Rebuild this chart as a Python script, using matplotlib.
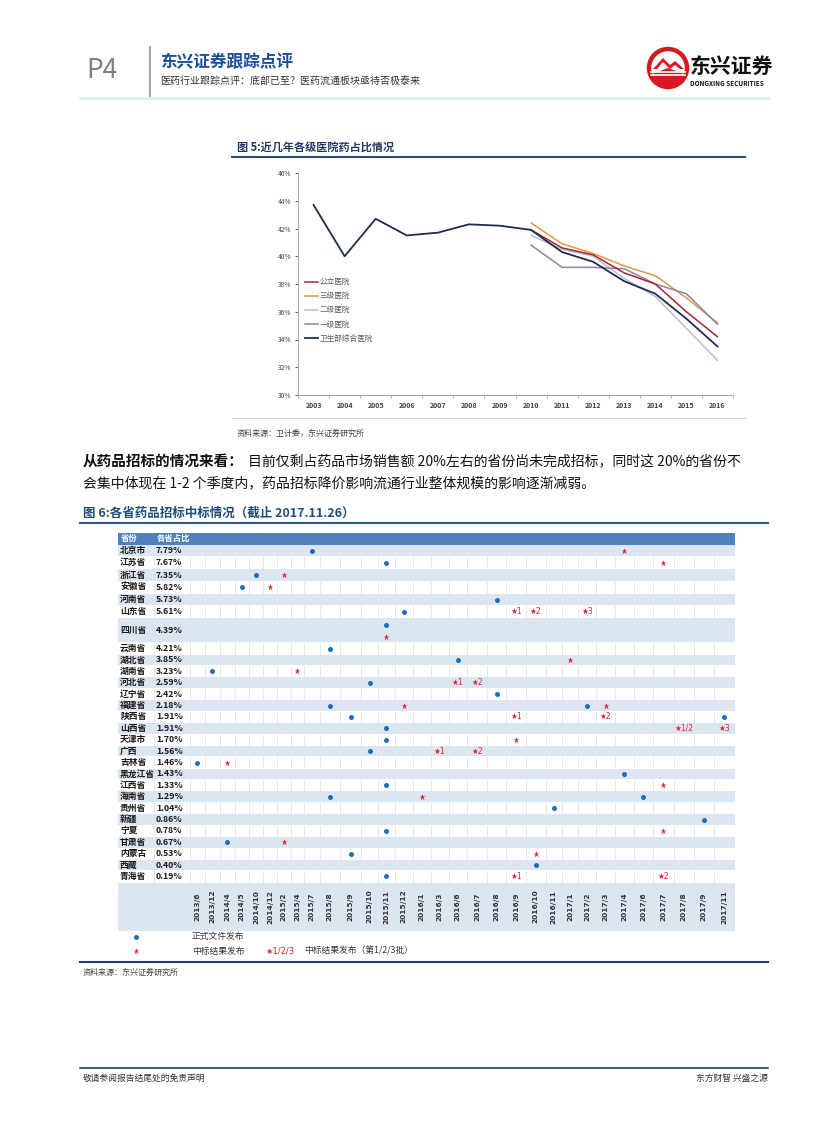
import matplotlib
matplotlib.use('Agg')
import matplotlib.pyplot as plt
from matplotlib.lines import Line2D
from matplotlib.patches import Rectangle, Circle, Polygon, Wedge

plt.rcParams['font.family'] = ['Noto Sans CJK SC', 'DejaVu Sans']

# ---- figure 5: drug share of hospital revenue (%)
years = ['2003', '2004', '2005', '2006', '2007', '2008', '2009',
         '2010', '2011', '2012', '2013', '2014', '2015', '2016']
ministry_hosp = [43.7, 40.0, 42.7, 41.5, 41.7, 42.3, 42.2, 41.9, 40.3, 39.6, 38.2, 37.3, 35.5, 33.5]
public_hosp = [41.9, 40.6, 40.1, 38.8, 38.0, 36.0, 34.2]
tier3_hosp = [42.4, 40.9, 40.2, 39.3, 38.6, 37.0, 35.2]
tier2_hosp = [41.5, 40.5, 40.0, 38.4, 37.1, 34.8, 32.5]
tier1_hosp = [40.8, 39.2, 39.2, 39.1, 38.0, 37.3, 35.1]

# ---- figure 6: provincial tender schedule
provinces = ['北京市', '江苏省', '浙江省', '安徽省', '河南省', '山东省', '四川省', '云南省',
             '湖北省', '湖南省', '河北省', '辽宁省', '福建省', '陕西省', '山西省', '天津市',
             '广西', '吉林省', '黑龙江省', '江西省', '海南省', '贵州省', '新疆', '宁夏',
             '甘肃省', '内蒙古', '西藏', '青海省']
shares = ['7.79%', '7.67%', '7.35%', '5.82%', '5.73%', '5.61%', '4.39%', '4.21%',
          '3.85%', '3.23%', '2.59%', '2.42%', '2.18%', '1.91%', '1.91%', '1.70%',
          '1.56%', '1.46%', '1.43%', '1.33%', '1.29%', '1.04%', '0.86%', '0.78%',
          '0.67%', '0.53%', '0.40%', '0.19%']
months = ['2013/6', '2013/12', '2014/4', '2014/5', '2014/10', '2014/12', '2015/2', '2015/4',
          '2015/7', '2015/8', '2015/9', '2015/10', '2015/11', '2015/12', '2016/1', '2016/3',
          '2016/6', '2016/7', '2016/8', '2016/9', '2016/10', '2016/11', '2017/1', '2017/2',
          '2017/3', '2017/4', '2017/6', '2017/7', '2017/8', '2017/9', '2017/11']
# 正式文件发布
doc_dates = [['2015/7'], ['2015/11'], ['2014/10'], ['2014/5'], ['2016/8'], ['2015/12'],
             ['2015/11'], ['2015/8'], ['2016/6'], ['2013/12'], ['2015/10'], ['2016/8'],
             ['2015/8', '2017/2'], ['2015/9', '2017/11'], ['2015/11'], ['2015/11'],
             ['2015/10'], ['2013/6'], ['2017/4'], ['2015/11'], ['2015/8', '2017/6'],
             ['2016/11'], ['2017/9'], ['2015/11'], ['2014/4'], ['2015/9'], ['2016/10'],
             ['2015/11']]
# 中标结果发布 (month, batch)
award_dates = [[('2017/4', '')], [('2017/7', '')], [('2015/2', '')], [('2014/12', '')], [],
               [('2016/9', '1'), ('2016/10', '2'), ('2017/2', '3')],
               [('2015/11', '')], [], [('2017/1', '')], [('2015/4', '')],
               [('2016/6', '1'), ('2016/7', '2')], [],
               [('2015/12', ''), ('2017/3', '')], [('2016/9', '1'), ('2017/3', '2')],
               [('2017/8', '1/2'), ('2017/11', '3')], [('2016/9', '')],
               [('2016/3', '1'), ('2016/7', '2')], [('2014/4', '')], [], [('2017/7', '')],
               [('2016/1', '')], [], [], [('2017/7', '')], [('2015/2', '')],
               [('2016/10', '')], [], [('2016/9', '1'), ('2017/7', '2')]]

# ---- page layout (pixels)
W, H = 827, 1122
month_w = [14.5, 15, 15, 14.5, 14, 14, 13.5, 13.5, 15.5, 20.5, 21, 17, 16.5, 18, 18.5, 17.5,
           18.5, 20, 19, 20, 19.5, 16.5, 16, 18, 19, 18.5, 19.5, 20.5, 20.5, 19.5, 21.5]
row_h = [12.2] * 6 + [25] + [11.4] * 21
NAVY = '#1F3864'
BLUE_DOT = '#1E6EB8'
RED = '#E3202B'
ROW_BLUE = '#DCE6F1'


def fx(x):
    return x / W


def fy(y):
    return 1 - y / H


def ftext(x, y, s, **kw):
    kw.setdefault('va', 'center')
    fig.text(fx(x), fy(y), s, **kw)


def fline(x0, x1, y, **kw):
    fig.add_artist(Line2D([fx(x0), fx(x1)], [fy(y), fy(y)], transform=fig.transFigure, **kw))


fig = plt.figure(figsize=(W / 100, H / 100), dpi=100)
fig.patch.set_facecolor('white')

# header
ftext(86, 70, 'P4', fontsize=19, color='#808080')
fig.add_artist(Line2D([fx(150), fx(150)], [fy(47), fy(96)], transform=fig.transFigure,
                      color='#A6A6A6', lw=1.5))
ftext(160, 62, '东兴证券跟踪点评', fontsize=12, fontweight='bold', color='#1C4E9C')
ftext(160, 81, '医药行业跟踪点评：底部已至？医药流通板块亟待否极泰来', fontsize=7.2, color='#333333')
ftext(690, 66, '东兴证券', fontsize=15, fontweight='bold', color='#111111')
ftext(690, 83, 'DONGXING SECURITIES', fontsize=4.6, fontweight='bold', color='#111111')
fline(80, 768, 98, color='#DCEFF7', lw=2)

# logo
lg = fig.add_axes([fx(646), fy(90), 44 / W, 44 / H])
lg.set_xlim(-1.1, 1.1)
lg.set_ylim(-1.1, 1.1)
lg.axis('off')
lg.add_patch(Circle((0, 0), 0.95, fc='white', ec='#D7191F', lw=3.2))
lg.add_patch(Wedge((0, 0), 0.95, 200, 340, fc='#D7191F', ec='none'))
lg.add_patch(Polygon([(-0.75, -0.05), (-0.25, 0.5), (0.1, 0.15), (0.35, 0.35), (0.8, -0.05),
                      (0.6, -0.05), (0.35, 0.15), (0.1, -0.05), (-0.25, 0.3), (-0.55, -0.05)],
                     closed=True, fc='#D7191F', ec='none'))
for yy in (-0.18, -0.34):
    lg.plot([-0.85, 0.85], [yy, yy], color='white', lw=1.2)

# ---- figure 5
ftext(237, 148, '图 5:近几年各级医院药占比情况', fontsize=8, fontweight='bold', color=NAVY)
fline(232, 745, 157, color='#2E4A6B', lw=1.5)

ax = fig.add_axes([fx(298), fy(395), (733 - 298) / W, (395 - 173) / H])
h_min, = ax.plot(years, ministry_hosp, color='#1F2D4D', lw=1.3, zorder=5)
later = years[7:]
h_pub, = ax.plot(later, public_hosp, color='#A6262F', lw=1.1, zorder=4)
h_t3, = ax.plot(later, tier3_hosp, color='#E29A45', lw=1.1, zorder=3)
h_t2, = ax.plot(later, tier2_hosp, color='#B4C0D6', lw=1.1, zorder=3)
h_t1, = ax.plot(later, tier1_hosp, color='#8C84A8', lw=1.1, zorder=3)
ax.set_xlim(-0.5, 13.5)
ax.set_ylim(30, 46)
yt = [30, 32, 34, 36, 38, 40, 42, 44, 46]
ax.set_yticks(yt)
ax.set_yticklabels([f'{v}%' for v in yt])
ax.tick_params(axis='y', labelsize=4.8, colors='#404040', length=2, width=0.6, pad=3)
ax.tick_params(axis='x', which='major', labelsize=5, length=0, pad=5)
for lab in ax.get_xticklabels():
    lab.set_fontweight('bold')
    lab.set_color('#404040')
ax.set_xticks([i + 0.5 for i in range(-1, 14)], minor=True)
ax.tick_params(axis='x', which='minor', length=2.5, width=0.6, color='#A6A6A6')
for s in ('top', 'right'):
    ax.spines[s].set_visible(False)
for s in ('left', 'bottom'):
    ax.spines[s].set_color('#A6A6A6')
    ax.spines[s].set_linewidth(0.7)
leg = ax.legend([h_pub, h_t3, h_t2, h_t1, h_min], ['公立医院', '三级医院', '二级医院', '一级医院', '卫生部综合医院'],
                loc='upper left', bbox_to_anchor=(0.01, 0.54), frameon=False, fontsize=5.5,
                handlelength=1.6, handletextpad=0.3, labelspacing=0.8, borderaxespad=0)
for t in leg.get_texts():
    t.set_color('#595959')

fline(232, 745, 418, color='#D0D0D0', lw=0.8)
ftext(237, 433, '资料来源：卫计委，东兴证券研究所', fontsize=5.8, style='italic', color='#404040')

# ---- body text
ftext(83, 461, '从药品招标的情况来看：', fontsize=10.5, fontweight='bold', color='#111111')
ftext(248, 461, '目前仅剩占药品市场销售额 20%左右的省份尚未完成招标，同时这 20%的省份不',
      fontsize=10, color='#111111')
ftext(83, 483, '会集中体现在 1-2 个季度内，药品招标降价影响流通行业整体规模的影响逐渐减弱。',
      fontsize=10, color='#111111')

# ---- figure 6
ftext(83, 513, '图 6:各省药品招标中标情况（截止 2017.11.26）', fontsize=9, fontweight='bold',
      color='#1F4E79')
fline(80, 768, 523, color='#2E5C8A', lw=1.5)

X0, X1, Y0, Y1 = 118, 735, 533, 931
tab = fig.add_axes([fx(X0), fy(Y1), (X1 - X0) / W, (Y1 - Y0) / H])
tab.set_xlim(X0, X1)
tab.set_ylim(Y1, Y0)
tab.axis('off')

share_x, date_x = 154, 190
edges = [date_x]
for w in month_w:
    edges.append(edges[-1] + w)
centers = {m: (edges[i] + edges[i + 1]) / 2 for i, m in enumerate(months)}

head_h = 11.6
tab.add_patch(Rectangle((X0, Y0), X1 - X0, head_h, fc='#4F81BD', ec='none'))
tab.text(X0 + 3, Y0 + head_h / 2, '省份', color='white', fontsize=6, fontweight='bold', va='center')
tab.text(share_x + 3, Y0 + head_h / 2, '各省占比', color='white', fontsize=6, fontweight='bold',
         va='center')

top = Y0 + head_h
for i, prov in enumerate(provinces):
    h = row_h[i]
    if i % 2 == 0:
        tab.add_patch(Rectangle((X0, top + 0.4), X1 - X0, h - 0.8, fc=ROW_BLUE, ec='none'))
    else:
        for xe in [share_x] + edges[:-1]:
            tab.plot([xe, xe], [top + 0.6, top + h - 0.6], color='#DCDCDC', lw=0.5)
        tab.plot([X1 - 0.3, X1 - 0.3], [top + 0.6, top + h - 0.6], color='#DCDCDC', lw=0.5)
    cy = top + h / 2
    tab.text(X0 + 2, cy, prov, fontsize=6.3, fontweight='bold', color='#1A1A1A', va='center')
    tab.text(share_x + 2, cy, shares[i], fontsize=6.3, fontweight='bold', color='#1A1A1A',
             va='center')
    split = h > 20
    for m in doc_dates[i]:
        tab.plot(centers[m], top + h * 0.27 if split else cy, 'o', ms=3.6, color=BLUE_DOT,
                 mec='none')
    for m, batch in award_dates[i]:
        y = top + h * 0.75 if split else cy
        if batch:
            tab.text(centers[m], y, '★' + batch, fontsize=5.5, color=RED, ha='center',
                     va='center', family='DejaVu Sans')
        else:
            tab.plot(centers[m], y, '*', ms=5, color=RED, mec='none')
    top += h

tab.add_patch(Rectangle((X0, top + 0.6), X1 - X0, Y1 - top - 0.6, fc=ROW_BLUE, ec='none'))
for m in months:
    tab.text(centers[m], (top + Y1) / 2, m, rotation=90, fontsize=5.3, fontweight='bold',
             color='#333333', ha='center', va='center', family='DejaVu Sans')

# legend under the table
fig.add_artist(Line2D([fx(136)], [fy(937)], marker='o', ms=3.6, color=BLUE_DOT, mec='none',
                      transform=fig.transFigure))
fig.add_artist(Line2D([fx(136)], [fy(951)], marker='*', ms=5, color=RED, mec='none',
                      transform=fig.transFigure))
ftext(192, 937, '正式文件发布', fontsize=6.3, color='#333333')
ftext(192, 951, '中标结果发布', fontsize=6.3, color='#333333')
ftext(265, 951, '★1/2/3', fontsize=6, color=RED, family='DejaVu Sans')
ftext(304, 951, '中标结果发布（第1/2/3批）', fontsize=6.3, color='#333333')

fline(80, 768, 962, color='#1F3F66', lw=1.5)
ftext(83, 972, '资料来源：东兴证券研究所', fontsize=5.8, style='italic', color='#404040')

# footer
fline(80, 768, 1068, color='#1F3F66', lw=1.2)
ftext(83, 1078, '敬请参阅报告结尾处的免责声明', fontsize=6.3, color='#333333')
ftext(768, 1078, '东方财智 兴盛之源', fontsize=6.3, color='#333333', ha='right')

fig.savefig('out.png', dpi=100)
